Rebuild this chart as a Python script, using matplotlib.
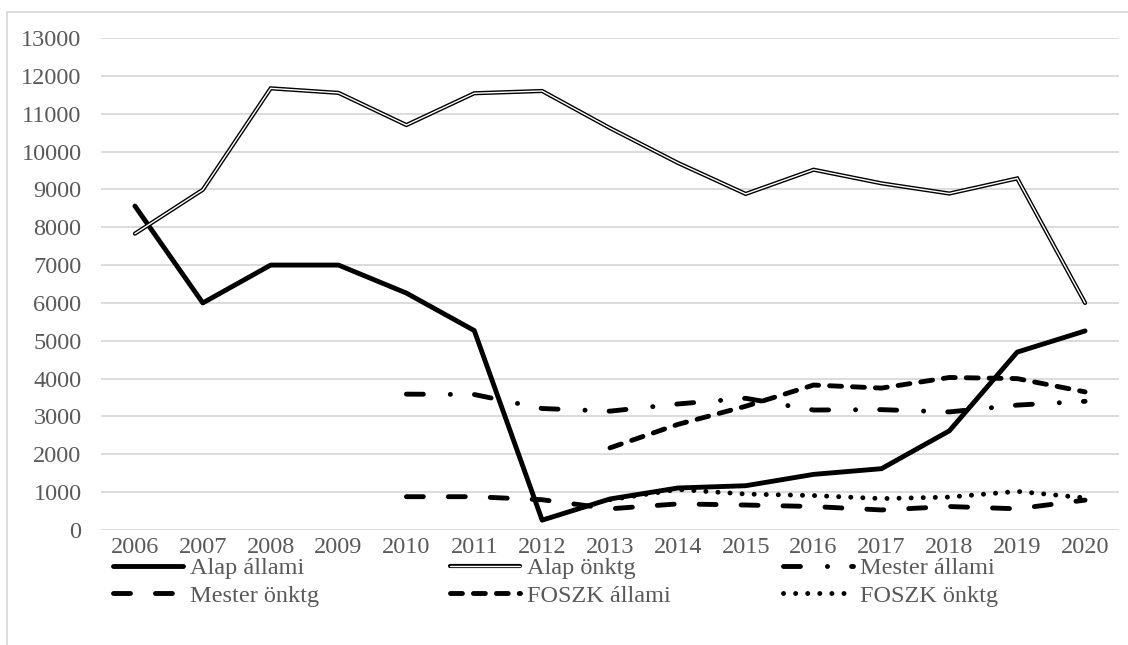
import numpy as np
import matplotlib
matplotlib.use("Agg")
import matplotlib.pyplot as plt
from matplotlib.patches import Rectangle

plt.rcParams['font.family'] = ['Liberation Serif', 'DejaVu Serif']
plt.rcParams['lines.scale_dashes'] = False

nan = np.nan
evek = ["2006", "2007", "2008", "2009", "2010", "2011", "2012", "2013",
        "2014", "2015", "2016", "2017", "2018", "2019", "2020"]

alap_allami = [8560, 6000, 7000, 7000, 6260, 5270, 260, 820, 1110, 1170, 1470, 1620, 2620, 4700, 5260]
alap_onktg = [7830, 8990, 11670, 11550, 10700, 11540, 11600, 10620, 9700, 8880, 9520, 9160, 8890, 9290, 6000]
mester_allami = [nan, nan, nan, nan, 3590, 3580, 3210, 3140, 3330, 3480, 3170, 3180, 3120, 3300, 3400]
mester_onktg = [nan, nan, nan, nan, 880, 880, 800, 560, 690, 660, 620, 530, 620, 560, 790]
foszk_allami = [nan, nan, nan, nan, nan, nan, nan, 2170, 2790, 3270, 3830, 3750, 4030, 4000, 3650]
foszk_onktg = [nan, nan, nan, nan, nan, nan, nan, 800, 1070, 950, 910, 830, 870, 1020, 850]

x = np.arange(len(evek))
szurke = "#595959"

fig = plt.figure(figsize=(11.28, 6.45), dpi=100)
ax = fig.add_axes([101 / 1128, 115 / 645, 1018 / 1128, 492 / 645])

# keret a diagram korul
fig.add_artist(Rectangle((7 / 1128, -0.05), 1.1, (633 / 645) + 0.05,
                         transform=fig.transFigure, fill=False,
                         edgecolor="#d9d9d9", lw=1.3, clip_on=False))

l1, = ax.plot(x, alap_allami, color="black", lw=3.5, solid_capstyle="round",
              solid_joinstyle="round")
l2a, = ax.plot(x, alap_onktg, color="black", lw=3.0, solid_capstyle="round",
               solid_joinstyle="miter")
l2b, = ax.plot(x, alap_onktg, color="white", lw=1.0, solid_capstyle="round",
               solid_joinstyle="miter")
l3, = ax.plot(x, mester_allami, color="black", lw=3.5, dash_capstyle="round",
              dash_joinstyle="round", dashes=(12.2, 19.4, 0.1, 17.3))
l4, = ax.plot(x, mester_onktg, color="black", lw=3.5, dash_capstyle="round",
              dash_joinstyle="round", dashes=(12.2, 18))
l5, = ax.plot(x, foszk_allami, color="black", lw=3.5, dash_capstyle="round",
              dash_joinstyle="round", dashes=(8.6, 7.9))
l6, = ax.plot(x, foszk_onktg, color="black", lw=3.5, dash_capstyle="round",
              dash_joinstyle="round", dashes=(0.1, 8.6))

ax.set_xlim(-0.5, len(evek) - 0.5)
ax.set_ylim(0, 13000)
ax.set_yticks(np.arange(0, 13001, 1000))
ax.set_xticks(x)
ax.set_xticklabels(evek)
ax.grid(axis="y", color="#d9d9d9", lw=1.3)
ax.set_axisbelow(True)
for s in ax.spines.values():
    s.set_visible(False)
ax.tick_params(axis="y", length=0, pad=14, labelsize=17.5, labelcolor=szurke)
ax.tick_params(axis="x", length=0, pad=5, labelsize=17.5, labelcolor=szurke)

# jelmagyarazat: harom oszlop, mindegyik kulon
oszlopok = [
    ([l1, l4], ["Alap állami", "Mester önktg"], 113),
    ([(l2a, l2b), l5], ["Alap önktg", "FOSZK állami"], 450),
    ([l3, l6], ["Mester állami", "FOSZK önktg"], 783),
]
for h, lab, xpx in oszlopok:
    leg = fig.legend(h, lab, loc="upper left",
                     bbox_to_anchor=(xpx / 1128, 1 - 557 / 645), frameon=False,
                     fontsize=17.5, handlelength=2.88, handletextpad=0.28,
                     labelspacing=0.24, borderaxespad=0, borderpad=0)
    for t in leg.get_texts():
        t.set_color(szurke)

fig.savefig("out.png", dpi=100)
